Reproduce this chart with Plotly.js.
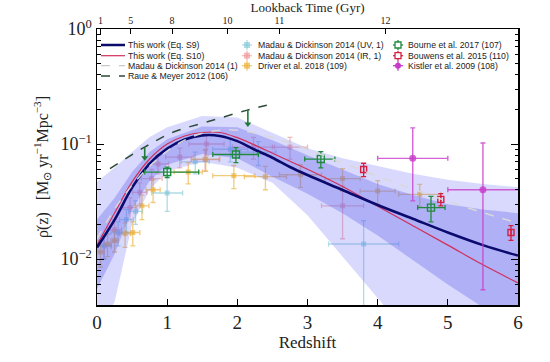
<!DOCTYPE html>
<html><head><meta charset="utf-8">
<script src="https://cdn.plot.ly/plotly-3.0.1.min.js"></script>
<style>html,body{margin:0;padding:0;background:#fff}</style>
</head><body><div id="chart" style="width:550px;height:362px"></div>
<script>
// ---------- data ----------
const curveZ = [0,0.25,0.5,0.75,1,1.25,1.5,1.75,2,2.25,2.5,2.75,3,3.5,4,4.5,5,5.5,6];
const eqS9  = [0.0126,0.0219,0.0417,0.0676,0.0912,0.1096,0.1189,0.1175,0.1059,0.0891,0.0759,0.0631,0.0537,0.0398,0.0295,0.0224,0.0170,0.0132,0.0107];
const eqS10 = [0.0132,0.0251,0.0468,0.0741,0.1,0.1175,0.1259,0.1259,0.1135,0.0977,0.0832,0.0708,0.0603,0.0427,0.0288,0.0195,0.0132,0.0089,0.0062];
const mdZ   = [0,0.25,0.5,0.75,1,1.25,1.5,1.75,2,2.5,3,3.5,4,4.5,5,5.5,6];
const md14  = [0.015,0.0272,0.0437,0.0642,0.0867,0.1079,0.124,0.132,0.132,0.114,0.0897,0.0685,0.0523,0.0405,0.0318,0.0253,0.0205];
const raueZ = [0.185,0.68,1.09,1.56,2.13,2.42];
const raueV = [0.061,0.094,0.127,0.155,0.196,0.217];

const bandZ   = [0,0.25,0.5,0.75,1,1.5,2,2.5,3,3.5,4,4.5,5,5.5,6];
const outerUp = [0.047,0.062,0.085,0.115,0.14,0.175,0.17,0.125,0.092,0.075,0.064,0.055,0.049,0.045,0.042];
const outerLo = [0.0025,0.0042,0.02,0.04,0.058,0.07,0.062,0.046,0.024,0.0105,0.0045,0.002,0.001,0.0005,0.0003];
const innerUp = [0.022,0.034,0.057,0.085,0.11,0.142,0.14,0.108,0.08,0.06,0.045,0.036,0.03,0.027,0.025];
const innerLo = [0.0055,0.011,0.027,0.048,0.066,0.082,0.075,0.052,0.037,0.025,0.016,0.0098,0.006,0.0038,0.0024];

// Madau & Dickinson 2014 UV
const uvZ   = [0.1,0.3,0.42,0.55,1.0,1.4,1.9,2.3,3.8];
const uvV   = [0.013,0.017,0.022,0.026,0.0375,0.07,0.09,0.085,0.0135];
const uvZe  = [0.1,0.1,0.1,0.1,0.22,0.2,0.25,0.25,0.5];
const uvVp  = [0.003,0.004,0.005,0.006,0.0145,0.015,0.02,0.02,0.008];
const uvVm  = [0.003,0.004,0.005,0.006,0.0115,0.015,0.02,0.02,0.012];
// Madau & Dickinson 2014 IR
const irZ   = [0.1,0.25,0.47,0.61,0.78,0.87,1.18,1.54,1.56,2.23,2.75,3.5];
const irV   = [0.013,0.018,0.028,0.038,0.05,0.067,0.077,0.073,0.1,0.094,0.094,0.029];
const irZe  = [0.1,0.1,0.1,0.1,0.15,0.15,0.2,0.2,0.25,0.3,0.25,0.3];
const irVe  = [0.003,0.004,0.006,0.008,0.01,0.012,0.015,0.015,0.02,0.02,0.02,0.014];
// Driver et al. 2018
const drZ   = [0.05,0.15,0.25,0.4,0.51,0.64,0.8,1.3,1.55,1.95,2.4,2.9,3.5,4.0,4.6];
const drV   = [0.0115,0.0135,0.0145,0.0166,0.017,0.029,0.04,0.057,0.074,0.053,0.052,0.054,0.05,0.039,0.0365];
const drZe  = [0.05,0.05,0.05,0.08,0.1,0.1,0.1,0.2,0.2,0.3,0.3,0.3,0.25,0.25,0.3];
const drVe  = [0.003,0.003,0.003,0.004,0.004,0.007,0.009,0.012,0.016,0.012,0.012,0.012,0.011,0.009,0.008];
// Bourne et al. 2017
const boZ   = [1.0,1.98,3.19,4.76];
const boV   = [0.057,0.081,0.074,0.028];
const boZm  = [0.32,0.33,0.23,0.19];
const boZp  = [0.45,0.32,0.2,0.2];
const boVe  = [0.006,0.012,0.012,0.007];
// Bouwens et al. 2015
const bwZ   = [3.8,4.9,5.9];
const bwV   = [0.060,0.033,0.017];
const bwVe  = [0.008,0.004,0.0025];
// Kistler et al. 2009
const kiZ   = [4.5,5.5];
const kiV   = [0.075,0.040];
const kiZm  = [0.5,0.5];
const kiZp  = [0.5,1.0];
const kiVp  = [0.063,0.062];
const kiVm  = [0.043,0.0346];
// upper limits (green arrows)
const limZ   = [0.68,2.15];
const limTop = [0.093,0.197];
const limBot = [0.076,0.149];

// axes labels
const xTicks = [0,1,2,3,4,5,6];
const xTickText = ['0','1','2','3','4','5','6'];
const lookbackZ = [0.05,0.48,1.07,1.86,2.6,4.11];
const lookbackText = ['1','5','8','10','11','12'];
const yTicks = [0.01,0.1,1];
const yTickText = ['10<sup>\u22122</sup>','10<sup>\u22121</sup>','10<sup>0</sup>'];
const yMinor = [0.005,0.006,0.007,0.008,0.009,0.02,0.03,0.04,0.05,0.06,0.07,0.08,0.09,0.2,0.3,0.4,0.5,0.6,0.7,0.8,0.9];

// ---------- styles ----------
const C = {
  navy:'#0b0b6e', red:'#d0305a', md:'#d8d8d8', raue:'#2c4a38',
  uv:'rgba(130,200,215,0.65)', ir:'rgba(240,150,150,0.65)', dr:'rgba(235,175,50,0.65)',
  bo:'#1f8a3f', bw:'#d42040', ki:'#c83cc8', lim:'#1f7a3a',
  outer:'rgba(120,120,250,0.28)', inner:'rgba(100,100,235,0.35)'
};
function errPts(x,y,xm,xp,ym,yp,col,sym,size,open,thick){
  return {x:x,y:y,type:'scatter',mode:'markers',hoverinfo:'skip',
    marker:{symbol:sym,size:size,color:open?'rgba(0,0,0,0)':col,line:{color:col,width:open?1.4:0}},
    error_x:{type:'data',symmetric:false,array:xp,arrayminus:xm,color:col,thickness:thick,width:2.5},
    error_y:{type:'data',symmetric:false,array:yp,arrayminus:ym,color:col,thickness:thick,width:2.5}};
}
const traces = [];
traces.push(errPts(irZ,irV,irZe,irZe,irVe,irVe,C.ir,'square',5,false,1.3));
traces.push(errPts(uvZ,uvV,uvZe,uvZe,uvVm,uvVp,C.uv,'square',5,false,1.3));
traces.push(errPts(drZ,drV,drZe,drZe,drVe,drVe,C.dr,'square',5,false,1.3));
// bands
traces.push({x:bandZ,y:outerLo,type:'scatter',mode:'lines',line:{width:0},hoverinfo:'skip'});
traces.push({x:bandZ,y:outerUp,type:'scatter',mode:'lines',line:{width:0},fill:'tonexty',fillcolor:C.outer,hoverinfo:'skip'});
traces.push({x:bandZ,y:innerLo,type:'scatter',mode:'lines',line:{width:0},hoverinfo:'skip'});
traces.push({x:bandZ,y:innerUp,type:'scatter',mode:'lines',line:{width:0},fill:'tonexty',fillcolor:C.inner,hoverinfo:'skip'});
// curves
traces.push({x:mdZ,y:md14,type:'scatter',mode:'lines',line:{color:C.md,width:1.5,dash:'dash',shape:'spline'},xaxis:'x2'});
traces.push({x:curveZ,y:eqS10,type:'scatter',mode:'lines',line:{color:C.red,width:1.2,shape:'spline'}});
traces.push({x:curveZ,y:eqS9,type:'scatter',mode:'lines',line:{color:C.navy,width:2.6,shape:'spline'}});
traces.push({x:raueZ,y:raueV,type:'scatter',mode:'lines',line:{color:C.raue,width:1.5,dash:'dash',shape:'spline'}});
// opaque data
traces.push(errPts(boZ,boV,boZm,boZp,boVe,boVe,C.bo,'square',7,true,1.3));
traces.push(errPts(bwZ,bwV,[0,0,0],[0,0,0],bwVe,bwVe,C.bw,'square',6,true,1.3));
traces.push(errPts(kiZ,kiV,kiZm,kiZp,kiVm,kiVp,'rgba(200,60,200,0.8)','circle',7,false,1.4));
// upper limits
traces.push({x:limZ,y:limBot,type:'scatter',mode:'markers',hoverinfo:'skip',
  marker:{symbol:'triangle-down',size:6,color:C.lim},
  error_y:{type:'data',symmetric:false,array:limTop.map((t,i)=>t-limBot[i]),arrayminus:[0,0],color:C.lim,thickness:1.6,width:0}});

// ---------- hand-built legend (matplotlib-style compact rows) ----------
const PL=97, PW=421, PT=29, PH=276;
const px=v=>(v-PL)/PW, py=v=>(305-v)/PH;
const rowsY=[45,55.7,65.7,76];
const legendItems = [
  {col:0,row:0,kind:'line',color:C.navy,width:2.5,dash:'solid',text:'This work (Eq. S9)'},
  {col:0,row:1,kind:'line',color:C.red,width:1.2,dash:'solid',text:'This work (Eq. S10)'},
  {col:0,row:2,kind:'line',color:'#c8c8c8',width:1.3,dash:'dash',text:'Madau &amp; Dickinson 2014 (1)'},
  {col:0,row:3,kind:'line',color:C.raue,width:1.3,dash:'dash',text:'Raue &amp; Meyer 2012 (106)'},
  {col:1,row:0,kind:'pt',color:C.uv,open:false,circle:false,text:'Madau &amp; Dickinson 2014 (UV, 1)'},
  {col:1,row:1,kind:'pt',color:C.ir,open:false,circle:false,text:'Madau &amp; Dickinson 2014 (IR, 1)'},
  {col:1,row:2,kind:'pt',color:C.dr,open:false,circle:false,text:'Driver et al. 2018 (109)'},
  {col:2,row:0,kind:'pt',color:C.bo,open:true,circle:false,text:'Bourne et al. 2017 (107)'},
  {col:2,row:1,kind:'pt',color:C.bw,open:true,circle:false,text:'Bouwens et al. 2015 (110)'},
  {col:2,row:2,kind:'pt',color:C.ki,open:false,circle:true,text:'Kistler et al. 2009 (108)'}
];
const colSym=[[101,125],[247],[398]];
const colText=[126,256,406];
const shapes=[], annotations=[];
legendItems.forEach(it=>{
  const y=rowsY[it.row];
  if(it.kind==='line'){
    shapes.push({type:'line',xref:'paper',yref:'paper',x0:px(colSym[0][0]),x1:px(colSym[0][1]),y0:py(y),y1:py(y),line:{color:it.color,width:it.width,dash:it.dash}});
  } else {
    const cx=colSym[it.col][0];
    shapes.push({type:'line',xref:'paper',yref:'paper',x0:px(cx-5),x1:px(cx+5),y0:py(y),y1:py(y),line:{color:it.color,width:1.3}});
    shapes.push({type:'line',xref:'paper',yref:'paper',x0:px(cx),x1:px(cx),y0:py(y-5),y1:py(y+5),line:{color:it.color,width:1.3}});
    shapes.push({type:it.circle?'circle':'rect',xref:'paper',yref:'paper',x0:px(cx-3),x1:px(cx+3),y0:py(y-3),y1:py(y+3),
      fillcolor:it.open?'#fff':it.color,line:{color:it.color,width:it.open?1.3:0}});
  }
  annotations.push({xref:'paper',yref:'paper',x:px(colText[it.col]),y:py(y),xanchor:'left',yanchor:'middle',showarrow:false,
    text:it.text,font:{family:'Liberation Sans, Arial, sans-serif',size:8.7,color:'#222'}});
});

const serif='Liberation Serif, Times New Roman, serif';
const layout={
  width:550,height:362,margin:{l:97,r:32,t:29,b:57},
  paper_bgcolor:'#fff',plot_bgcolor:'#fff',showlegend:false,
  xaxis:{range:[0,6],tickmode:'array',tickvals:xTicks,ticktext:xTickText,ticks:'inside',ticklen:6,tickwidth:1,tickcolor:'#000',
    showline:true,linecolor:'#000',linewidth:1.5,mirror:false,showgrid:false,zeroline:false,
    tickfont:{family:serif,size:19,color:'#222'},
    title:{text:'Redshift',font:{family:serif,size:17,color:'#222'},standoff:2}},
  xaxis2:{overlaying:'x',side:'top',anchor:'y',range:[0,6],tickmode:'array',tickvals:lookbackZ,ticktext:lookbackText,
    ticks:'inside',ticklen:5,tickcolor:'#000',showline:true,linecolor:'#000',linewidth:1.5,showgrid:false,zeroline:false,
    tickfont:{family:serif,size:10,color:'#222'},
    title:{text:'Lookback Time (Gyr)',font:{family:serif,size:13,color:'#222'},standoff:0}},
  yaxis:{type:'log',range:[-2.4,0],tickmode:'array',tickvals:yTicks,ticktext:yTickText,ticks:'inside',ticklen:7,tickcolor:'#000',
    showline:true,mirror:'ticks',linecolor:'#000',linewidth:1.5,showgrid:false,zeroline:false,
    tickfont:{family:serif,size:18,color:'#222'},
    minor:{ticks:'inside',ticklen:3.5,tickcolor:'#000',tickmode:'array',tickvals:yMinor,showgrid:false},
    title:{text:'\u03C1\u0307(z)   [M<sub>\u2299</sub> yr<sup>\u22121</sup>Mpc<sup>\u22123</sup>]',font:{family:serif,size:16,color:'#222'},standoff:8}},
  shapes:shapes,annotations:annotations
};
Plotly.newPlot('chart',traces,layout,{displayModeBar:false,staticPlot:true});
</script></body></html>
